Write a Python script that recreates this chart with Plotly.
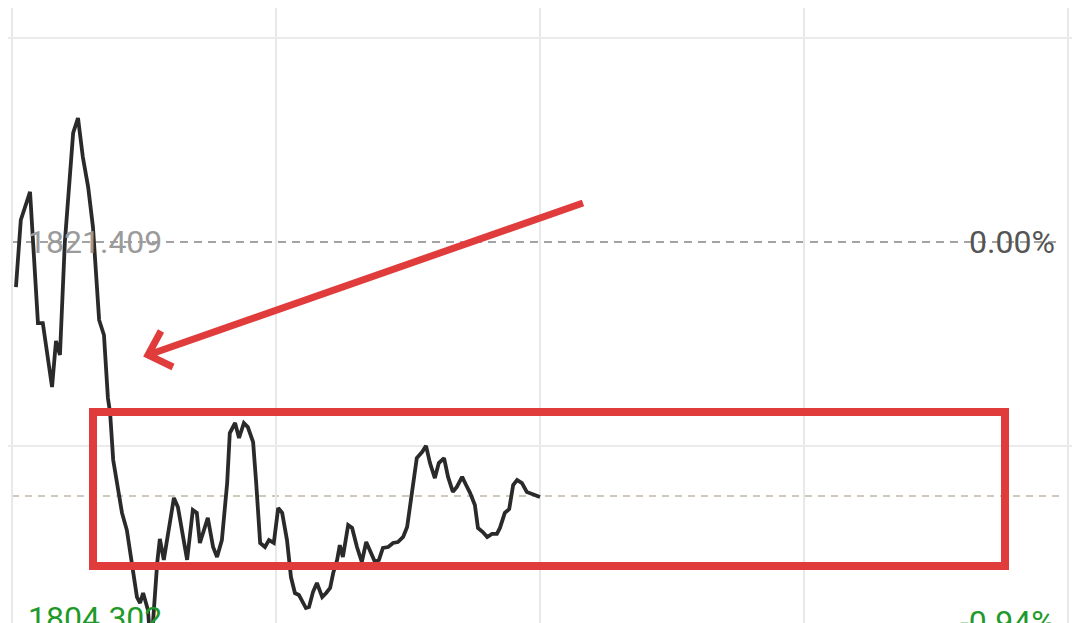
import plotly.graph_objects as go

# ---- data (minutes after 9:30 open, index level) ----
prev_close = 1821.409
low_label = 1804.302
avg_price = 1810.76

minutes = [0.9, 2.0, 4.1, 5.9, 7.0, 8.0, 9.1, 10.0, 10.9, 12.0, 13.0, 13.9, 15.0, 16.1, 17.3, 18.4,
           19.8, 20.9, 21.8, 22.3, 23.0, 25.0, 26.1, 27.3, 28.4, 29.1, 29.8, 30.9, 31.6, 33.0,
           33.6, 34.5, 35.9, 36.8, 37.7, 39.8, 41.1, 42.0, 42.7, 44.5, 45.7, 46.6, 47.7, 48.9,
           49.5, 50.7, 51.6, 52.7, 53.6, 54.8, 55.5, 56.4, 57.5, 58.4, 59.5, 60.5, 61.4, 62.5,
           63.4, 64.3, 65.2, 66.1, 66.8, 67.5, 68.4, 69.3, 70.5, 71.4, 72.3, 73.0, 73.9, 74.5,
           75.2, 76.4, 77.3, 78.4, 79.5, 80.5, 81.6, 82.5, 83.4, 84.3, 85.5, 86.6, 87.7, 88.9,
           89.8, 90.5, 92.0, 93.2, 94.1, 95.0, 96.1, 97.0, 98.2, 99.1, 100.2, 101.1, 102.3,
           103.2, 104.1, 105.2, 105.9, 107.0, 108.0, 109.1, 110.2, 110.9, 112.0, 113.0, 113.9,
           114.8, 115.9, 117.0, 118.4, 120.0]
prices = [1819.52, 1822.33, 1823.51, 1818.01, 1818.01, 1816.59, 1815.33, 1817.26, 1816.67, 1821.37,
          1823.80, 1825.98, 1826.61, 1824.97, 1823.72, 1822.04, 1818.14, 1817.51, 1814.87, 1814.24,
          1812.27, 1810.05, 1809.33, 1807.78, 1806.52, 1806.27, 1806.69, 1805.98, 1804.30, 1807.95,
          1808.96, 1808.08, 1809.75, 1810.68, 1810.30, 1808.08, 1810.17, 1810.05, 1808.79, 1809.84,
          1808.62, 1808.20, 1808.91, 1811.30, 1813.40, 1813.82, 1813.19, 1813.82, 1813.65, 1813.02,
          1811.30, 1808.79, 1808.62, 1808.91, 1808.79, 1810.26, 1810.05, 1808.91, 1807.36, 1806.69,
          1806.61, 1806.27, 1806.06, 1806.10, 1806.73, 1807.11, 1806.52, 1806.69, 1806.90, 1807.53,
          1808.08, 1808.70, 1808.20, 1809.54, 1809.42, 1808.62, 1807.99, 1808.83, 1808.41, 1807.99,
          1808.08, 1808.58, 1808.62, 1808.79, 1808.83, 1809.04, 1809.46, 1810.47, 1812.35, 1812.60,
          1812.86, 1812.14, 1811.51, 1812.14, 1812.35, 1811.56, 1810.93, 1811.14, 1811.56, 1811.22,
          1810.89, 1810.38, 1809.42, 1809.25, 1809.04, 1809.17, 1809.17, 1809.42, 1810.05, 1810.21,
          1811.22, 1811.43, 1811.30, 1810.93, 1810.84, 1810.72]

x_grid = [0, 60, 120, 180, 240]
y_grid = [1804.302, 1812.855, 1829.963]
label_prev = "1821.409"
label_low = "1804.302"
label_zero = "0.00%"
label_low_pct = "-0.94%"

W, H = 1080, 623
OFF = 8  # page body margin offset


def px(x):
    return (x - OFF) / W


def py(y):
    return 1 - (y - OFF) / H


fig = go.Figure()
fig.add_trace(go.Scatter(x=minutes, y=prices, mode="lines",
                         line=dict(color="#2a2a2a", width=3.8), hoverinfo="skip"))

shapes = []
# dashed reference lines
shapes.append(dict(type="line", xref="paper", yref="y", x0=px(12), x1=px(1062),
                   y0=prev_close, y1=prev_close, line=dict(color="#a3a3a3", width=2, dash="8px,6px"),
                   layer="below"))
shapes.append(dict(type="line", xref="paper", yref="y", x0=px(12), x1=px(1064),
                   y0=avg_price, y1=avg_price, line=dict(color="#c2b6a6", width=1.5, dash="7px,6px"),
                   layer="below"))
# red annotation box
red = "#e03c3c"
shapes.append(dict(type="rect", xref="paper", yref="paper",
                   x0=px(93), x1=px(1005), y0=py(566), y1=py(412),
                   line=dict(color=red, width=8), layer="above"))
# red arrow
path = (f"M {px(583)},{py(203)} L {px(148)},{py(355)} "
        f"M {px(161)},{py(331)} L {px(148)},{py(355)} L {px(173)},{py(367)}")
shapes.append(dict(type="path", xref="paper", yref="paper", path=path,
                   line=dict(color=red, width=7), layer="above"))

annotations = [
    dict(text=label_prev, xref="paper", yref="y", x=px(26), y=prev_close, xanchor="left",
         yanchor="middle", showarrow=False, font=dict(family="Roboto", size=32, color="#9b9b9b")),
    dict(text=label_zero, xref="paper", yref="y", x=px(1057), y=prev_close, xanchor="right",
         yanchor="middle", showarrow=False, font=dict(family="Roboto", size=32, color="#555555")),
    dict(text=label_low, xref="paper", yref="paper", x=px(26), y=py(618), xanchor="left",
         yanchor="middle", showarrow=False, font=dict(family="Roboto", size=32, color="#1f9a2a")),
    dict(text=label_low_pct, xref="paper", yref="paper", x=px(1057), y=py(622), xanchor="right",
         yanchor="middle", showarrow=False, font=dict(family="Roboto", size=32, color="#1f9a2a")),
]

k = 17.107 / 408
y_top = prev_close + (242 - OFF) * k
y_bot = prev_close - (H - (242 - OFF)) * k
fig.update_layout(
    width=W, height=H, margin=dict(l=0, r=0, t=0, b=0),
    paper_bgcolor="white", plot_bgcolor="white", showlegend=False,
    xaxis=dict(range=[-(12 - OFF) / 4.4, (W - (12 - OFF)) / 4.4], tickvals=x_grid,
               showticklabels=False, showgrid=True, gridcolor="#e8e8e8", gridwidth=1.5,
               zeroline=False, showline=False),
    yaxis=dict(range=[y_bot, y_top], tickvals=y_grid,
               showticklabels=False, showgrid=True, gridcolor="#ebebeb", gridwidth=1.5,
               zeroline=False, showline=False),
    shapes=shapes, annotations=annotations,
)

fig.write_html("out.html")
